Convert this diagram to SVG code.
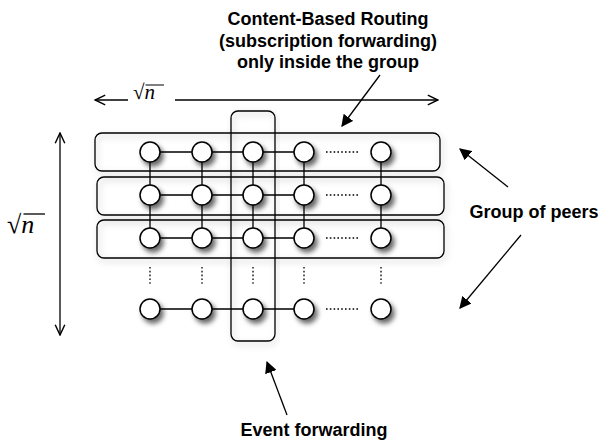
<svg xmlns="http://www.w3.org/2000/svg" width="602" height="444" viewBox="0 0 602 444">
<defs>
<style>
.grp{fill:none;stroke:#000;stroke-width:1.3;filter:url(#rs)}
.node{fill:#fff;stroke:#000;stroke-width:1.5;filter:url(#ns)}
.edge{stroke:#000;stroke-width:1.3;fill:none}
.dot{stroke:#000;stroke-width:1.3;stroke-dasharray:1.6 2.2;fill:none}
.lbl{font-family:"Liberation Sans",Arial,sans-serif;font-weight:bold;font-size:18px;fill:#000;text-anchor:middle}
.math{font-family:"Liberation Serif","Times New Roman",serif;fill:#000}
.arr{stroke:#000;stroke-width:1.3;fill:none;marker-end:url(#fa)}
.dim{stroke:#000;stroke-width:1.3;fill:none}
</style>
<filter id="ns" x="-50%" y="-50%" width="220%" height="220%">
<feDropShadow dx="3" dy="4" stdDeviation="2.5" flood-color="#000" flood-opacity="0.6"/>
</filter>
<filter id="rs" x="-10%" y="-20%" width="120%" height="150%">
<feDropShadow dx="2" dy="3" stdDeviation="3" flood-color="#000" flood-opacity="0.25"/>
</filter>
<marker id="fa" viewBox="0 0 10 10" refX="9" refY="5" markerWidth="12" markerHeight="12" markerUnits="userSpaceOnUse" orient="auto">
<path d="M0,0 L10,5 L0,10 z" fill="#000"/>
</marker>
<marker id="oa" viewBox="0 0 10 10" refX="9.5" refY="5" markerWidth="12" markerHeight="12" markerUnits="userSpaceOnUse" orient="auto-start-reverse">
<path d="M1,1 L9.5,5 L1,9" fill="none" stroke="#000" stroke-width="1.2"/>
</marker>
</defs>
<rect width="602" height="444" fill="#fff"/>

<g id="groups">
<rect id="row1" class="grp" x="95" y="133" width="345" height="38" rx="7"/>
<rect id="row2" class="grp" x="97" y="177" width="347" height="38" rx="7"/>
<rect id="row3" class="grp" x="97" y="220" width="347" height="38" rx="7"/>
<rect id="column" class="grp" x="231" y="111" width="44" height="230" rx="7"/>
</g>

<g id="connectors">
<path class="edge" d="M150,152H304M150,195H304M150,238H304M150,309H304"/>
<path class="edge" d="M150,152V238M202,152V238M253,152V238M304,152V238M381,152V238"/>
<path class="dot" d="M326,152H360M326,195H360M326,238H360M326,309H360"/>
<path class="dot" d="M150,267V286M202,267V286M253,267V286M304,267V286M381,267V286"/>
<path class="dim" d="M128,100H95" marker-end="url(#oa)"/>
<path class="dim" d="M175,100H438" marker-end="url(#oa)"/>
<path class="dim" d="M60,133V335" marker-start="url(#oa)" marker-end="url(#oa)"/>
<path class="arr" d="M380,75L342,126"/>
<path class="arr" d="M508,187L460,149"/>
<path class="arr" d="M521,235L460,308"/>
<path class="arr" d="M287,415L267,362"/>
</g>

<g id="nodes">
<circle class="node" cx="150" cy="152" r="10"/><circle class="node" cx="202" cy="152" r="10"/><circle class="node" cx="253" cy="152" r="10"/><circle class="node" cx="304" cy="152" r="10"/><circle class="node" cx="381" cy="152" r="10"/>
<circle class="node" cx="150" cy="195" r="10"/><circle class="node" cx="202" cy="195" r="10"/><circle class="node" cx="253" cy="195" r="10"/><circle class="node" cx="304" cy="195" r="10"/><circle class="node" cx="381" cy="195" r="10"/>
<circle class="node" cx="150" cy="238" r="10"/><circle class="node" cx="202" cy="238" r="10"/><circle class="node" cx="253" cy="238" r="10"/><circle class="node" cx="304" cy="238" r="10"/><circle class="node" cx="381" cy="238" r="10"/>
<circle class="node" cx="150" cy="309" r="10"/><circle class="node" cx="202" cy="309" r="10"/><circle class="node" cx="253" cy="309" r="10"/><circle class="node" cx="304" cy="309" r="10"/><circle class="node" cx="381" cy="309" r="10"/>
</g>

<g id="labels">
<text class="lbl" x="328" y="25">Content-Based Routing</text>
<text class="lbl" x="328" y="47">(subscription forwarding)</text>
<text class="lbl" x="328" y="68">only inside the group</text>
<text class="lbl" x="534" y="218">Group of peers</text>
<text class="lbl" x="314" y="436">Event forwarding</text>
<text class="math" x="133" y="99" font-size="21">√<tspan font-style="italic">n</tspan></text>
<line x1="145.5" y1="85" x2="164" y2="85" stroke="#000" stroke-width="1"/>
<text class="math" x="7" y="233" font-size="26">√<tspan font-style="italic">n</tspan></text>
<line x1="23.5" y1="214" x2="45" y2="214" stroke="#000" stroke-width="1.3"/>
</g>
</svg>
